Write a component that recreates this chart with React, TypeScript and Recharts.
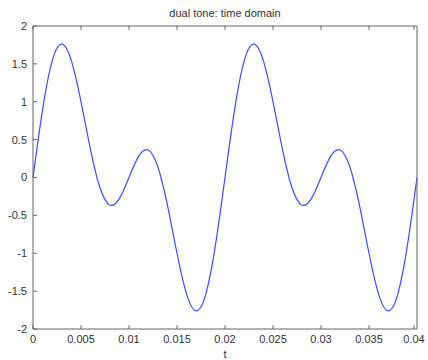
import React from 'react';
import { LineChart, Line, XAxis, YAxis, Label } from 'recharts';

// samples of the curve, every 0.001 s
const times = [
  0, 0.001, 0.002, 0.003, 0.004, 0.005, 0.006, 0.007, 0.008, 0.009,
  0.01, 0.011, 0.012, 0.013, 0.014, 0.015, 0.016, 0.017, 0.018, 0.019,
  0.02, 0.021, 0.022, 0.023, 0.024, 0.025, 0.026, 0.027, 0.028, 0.029,
  0.03, 0.031, 0.032, 0.033, 0.034, 0.035, 0.036, 0.037, 0.038, 0.039, 0.04,
];
const signal = [
  0, 0.897, 1.539, 1.76, 1.539, 1.0, 0.363, -0.142, -0.363, -0.279,
  0, 0.279, 0.363, 0.142, -0.363, -1.0, -1.539, -1.76, -1.539, -0.897,
  0, 0.897, 1.539, 1.76, 1.539, 1.0, 0.363, -0.142, -0.363, -0.279,
  0, 0.279, 0.363, 0.142, -0.363, -1.0, -1.539, -1.76, -1.539, -0.897, 0,
];
const xTicks = [0, 0.005, 0.01, 0.015, 0.02, 0.025, 0.03, 0.035, 0.04];
const yTicks = [-2, -1.5, -1, -0.5, 0, 0.5, 1, 1.5, 2];

const chartData = times.map((t, i) => ({ t, x: signal[i] }));

const FONT = '"Liberation Sans", Arial, sans-serif';
const AXIS = '#666';
const TEXT = '#333';
const TICK_LEN = 4;
const GAP = 6;

// tick text plus a short inward tick mark (matlab style)
const BottomTick = (props: any) => {
  const { x, y, payload } = props;
  const axisY = y - GAP;
  return (
    <g>
      <line x1={x} x2={x} y1={axisY} y2={axisY - TICK_LEN} stroke={AXIS} />
      <text x={x} y={y} dy="0.71em" textAnchor="middle" fontSize={11} fill={TEXT} fontFamily={FONT}>
        {payload.value}
      </text>
    </g>
  );
};

const LeftTick = (props: any) => {
  const { x, y, payload } = props;
  const axisX = x + GAP;
  return (
    <g>
      <line x1={axisX} x2={axisX + TICK_LEN} y1={y} y2={y} stroke={AXIS} />
      <text x={x} y={y} dy="0.355em" textAnchor="end" fontSize={11} fill={TEXT} fontFamily={FONT}>
        {payload.value}
      </text>
    </g>
  );
};

const TopTick = (props: any) => {
  const { x, y } = props;
  return <line x1={x} x2={x} y1={y} y2={y + TICK_LEN} stroke={AXIS} />;
};

const RightTick = (props: any) => {
  const { x, y } = props;
  return <line x1={x} x2={x - TICK_LEN} y1={y} y2={y} stroke={AXIS} />;
};

export default function App() {
  return (
    <div style={{ position: 'absolute', left: 0, top: 0, width: 428, height: 360, background: '#fff' }}>
      <LineChart
        width={428}
        height={360}
        data={chartData}
        margin={{ top: 25, right: 10, left: 0, bottom: 0 }}
      >
        <XAxis
          dataKey="t"
          type="number"
          domain={[0, 0.04]}
          ticks={xTicks}
          height={31}
          tickSize={0}
          tickMargin={GAP}
          tickLine={false}
          stroke={AXIS}
          tick={<BottomTick />}
        >
          <Label value="t" position="insideBottom" offset={2} style={{ fontSize: 11, fill: TEXT, fontFamily: FONT }} />
        </XAxis>
        <XAxis
          xAxisId="top"
          orientation="top"
          dataKey="t"
          type="number"
          domain={[0, 0.04]}
          ticks={xTicks}
          height={1}
          tickSize={0}
          tickMargin={0}
          tickLine={false}
          tick={<TopTick />}
          stroke={AXIS}
        >
          <Label value="dual tone: time domain" position="top" offset={8} style={{ fontSize: 11, fill: TEXT, fontFamily: FONT }} />
        </XAxis>
        <YAxis
          type="number"
          domain={[-2, 2]}
          ticks={yTicks}
          width={33}
          tickSize={0}
          tickMargin={GAP}
          tickLine={false}
          stroke={AXIS}
          tick={<LeftTick />}
        />
        <YAxis
          yAxisId="right"
          orientation="right"
          type="number"
          domain={[-2, 2]}
          ticks={yTicks}
          width={1}
          tickSize={0}
          tickMargin={0}
          tickLine={false}
          tick={<RightTick />}
          stroke={AXIS}
        />
        <Line
          type="natural"
          dataKey="x"
          stroke="#3b4cff"
          strokeWidth={1.2}
          dot={false}
          isAnimationActive={false}
        />
      </LineChart>
    </div>
  );
}
